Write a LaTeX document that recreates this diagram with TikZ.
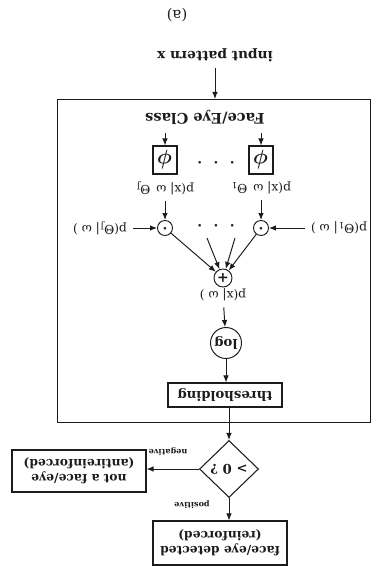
\documentclass[tikz,border=0pt]{standalone}
\usepackage{amsmath}
\usepackage{fontspec}
\setmainfont{DejaVu Serif}
\usetikzlibrary{arrows.meta,positioning,calc,shapes.geometric}
\definecolor{ink}{HTML}{1C1C1C}
\definecolor{paper}{HTML}{FFFFFF}
\tikzset{
  >={Latex[length=1.4mm,width=1.1mm]},
  flow/.style={->,draw=ink,line width=0.55pt},
  frame/.style={draw=ink,line width=0.6pt},
  stagebox/.style={draw=ink,line width=0.6pt,font=\bfseries\fontsize{7.5}{9}\selectfont,text=ink,inner sep=1.5pt},
  opcirc/.style={circle,draw=ink,line width=0.55pt,inner sep=0pt,text=ink},
  body/.style={font=\bfseries\fontsize{7.8}{9}\selectfont,text=ink},
  mathlabel/.style={font=\fontsize{7}{8}\selectfont,text=ink},
  sublabel/.style={font=\bfseries\fontsize{4.6}{5.5}\selectfont,text=ink},
  dotrow/.style={font=\fontsize{5}{6}\selectfont,text=ink},
}

\begin{document}
\begin{tikzpicture}[x=1cm,y=1cm,rotate=180,transform shape]
\useasboundingbox[fill=paper] (0,0) rectangle (7.5,11.32);

% input and class model --------------------------------------------------------
\node[body,font=\fontsize{8.5}{10}\selectfont] (cap) at (3.96,0.30) {(a)};
\node[body] (input) at (3.20,1.10) {input pattern x};
\node[frame,minimum width=6.26cm,minimum height=6.46cm,anchor=south west] (model) at (0.08,1.98) {};
\node[body,font=\bfseries\fontsize{8.3}{10}\selectfont] (cls) at (3.40,2.34) {Face/Eye Class};
\draw[flow] (input) -- (input |- model.south);

% component densities ----------------------------------------------------------
\node[stagebox,minimum width=0.48cm,minimum height=0.56cm] (phiA) at (2.28,3.20) {\large$\boldsymbol{\phi}$};
\node[stagebox,minimum width=0.48cm,minimum height=0.56cm] (phiJ) at (4.20,3.20) {\large$\boldsymbol{\phi}$};
\node[dotrow] (dotsT) at (3.18,3.24) {\textbullet\hspace{2.2mm}\textbullet\hspace{2.2mm}\textbullet};
\node[mathlabel] (likA) at (2.28,3.76) {p(x| ω\, Θ\textsubscript{1}};
\node[mathlabel] (likJ) at (4.20,3.76) {p(x| ω\, Θ\textsubscript{J}};
\draw[flow] ([yshift=0.6mm]cls.north -| phiA) -- (phiA);
\draw[flow] ([yshift=0.6mm]cls.north -| phiJ) -- (phiJ);

% weighting by priors ----------------------------------------------------------
\node[opcirc,minimum size=0.30cm] (mulA) at (2.28,4.56) {\fontsize{5}{5}\selectfont\textbullet};
\node[opcirc,minimum size=0.30cm] (mulJ) at (4.20,4.56) {\fontsize{5}{5}\selectfont\textbullet};
\node[mathlabel] (priA) at (0.72,4.56) {p(Θ\textsubscript{1}| ω )};
\node[mathlabel] (priJ) at (5.50,4.56) {p(Θ\textsubscript{J}| ω )};
\node[dotrow] (dotsM) at (3.18,4.50) {\textbullet\hspace{2.2mm}\textbullet\hspace{2.2mm}\textbullet};
\draw[flow] (likA) -- (mulA);
\draw[flow] (likJ) -- (mulJ);
\draw[flow] (priA) -- (mulA);
\draw[flow] (priJ) -- (mulJ);

% mixture, log and thresholding ------------------------------------------------
\node[opcirc,minimum size=0.36cm,font=\bfseries\fontsize{8}{8}\selectfont] (sum) at (3.04,5.56) {+};
\coordinate (midA) at (2.80,4.76);
\coordinate (midJ) at (3.36,4.76);
\draw[flow] (mulA) -- (sum);
\draw[flow] (mulJ) -- (sum);
\draw[flow] (midA) -- (sum);
\draw[flow] (midJ) -- (sum);
\node[mathlabel] (post) at (3.04,5.90) {p(x| ω )};
\node[opcirc,minimum size=0.62cm,font=\bfseries\fontsize{7.5}{9}\selectfont] (log) at (2.98,6.86) {log};
\node[stagebox,minimum width=2.28cm,minimum height=0.48cm] (thr) at (3.00,7.90) {thresholding};
\draw[flow] (post) -- (log);
\draw[flow] (log) -- (log |- thr.south);

% decision ---------------------------------------------------------------------
\node[diamond,draw=ink,line width=0.6pt,inner sep=0pt,minimum width=1.18cm,minimum height=1.14cm,font=\bfseries\fontsize{7.5}{9}\selectfont,text=ink] (dec) at (2.92,9.38) {> 0 ?};
\node[stagebox,minimum width=2.68cm,minimum height=0.84cm,align=center,font=\bfseries\fontsize{7}{8.6}\selectfont] (notfe) at (5.92,9.42) {not a face/eye\\(antireinforced)};
\node[stagebox,minimum width=2.68cm,minimum height=0.88cm,align=center,font=\bfseries\fontsize{7}{8.6}\selectfont] (fe) at (3.10,10.86) {face/eye detected\\(reinforced)};
\draw[flow] (thr.north -| dec) -- (dec.south);
\draw[flow] (dec.east) -- (dec.east -| notfe.west);
\draw[flow] (dec.north) -- (dec.north |- fe.south);
\node[sublabel] (neg) at (4.14,9.04) {negative};
\node[sublabel] (pos) at (3.66,10.10) {positive};

\end{tikzpicture}
\end{document}
